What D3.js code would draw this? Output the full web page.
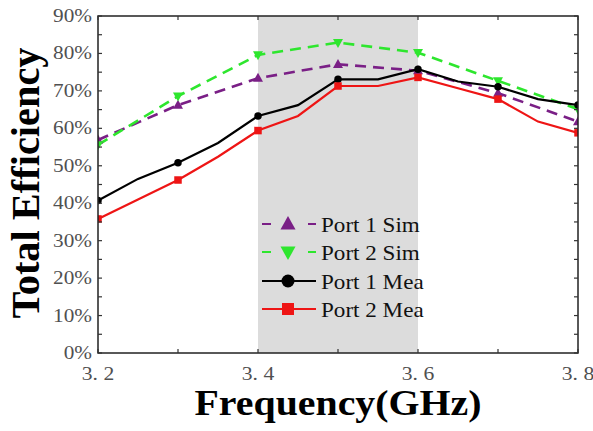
<!DOCTYPE html>
<html><head><meta charset="utf-8">
<script src="https://cdn.jsdelivr.net/npm/d3@7"></script>
<style>
html,body{margin:0;padding:0;background:#fff;}
svg{display:block;}
text{font-family:"Liberation Serif","Times New Roman",serif;}
</style></head>
<body>
<svg id="chart" width="593" height="431"></svg>
<script>
// ---- data ----
const meaFreqs = [3.2,3.25,3.3,3.35,3.4,3.45,3.5,3.55,3.6,3.65,3.7,3.75,3.8];
const port1Mea = [40.7,46.5,50.8,56.1,63.3,66.2,73.1,73.1,75.8,72.5,71.1,67.8,66.2];
const port2Mea = [35.8,41.0,46.2,52.4,59.4,63.3,71.3,71.3,73.6,70.7,67.8,61.8,58.8];
const simFreqs = [3.2,3.3,3.4,3.5,3.6,3.7,3.8];
const port1Sim = [56.9,66.2,73.4,77.1,75.4,69.4,61.8];
const port2Sim = [55.6,68.6,79.6,82.9,80.2,72.7,65.1];
const xTickLabels = [3.2,3.4,3.6,3.8];
const xTicksAll = [3.2,3.3,3.4,3.5,3.6,3.7,3.8];
const yTickLabels = [0,10,20,30,40,50,60,70,80,90];
const yTicksAll = d3.range(0,91,5);
const band = [3.4,3.6];
const legendNames = ["Port 1 Sim","Port 2 Sim","Port 1 Mea","Port 2 Mea"];

// ---- layout ----
const L=98,R=578,T=16,B=353;
const x = d3.scaleLinear().domain([3.2,3.8]).range([L,R]);
const y = d3.scaleLinear().domain([0,90]).range([B,T]);
const svg = d3.select("#chart");

svg.append("defs").append("clipPath").attr("id","clip")
  .append("rect").attr("x",L).attr("y",T).attr("width",R-L).attr("height",B-T);

// shaded band
svg.append("rect").attr("x",x(band[0])).attr("y",T)
  .attr("width",x(band[1])-x(band[0])).attr("height",B-T)
  .attr("fill","#dcdcdc");

const series = [
  {name:legendNames[0], xs:simFreqs, ys:port1Sim, color:"#7a1f86", dash:"11,7", marker:"tri-up"},
  {name:legendNames[1], xs:simFreqs, ys:port2Sim, color:"#2ee62e", dash:"11,7", marker:"tri-down"},
  {name:legendNames[2], xs:meaFreqs, ys:port1Mea, color:"#000000", dash:null, marker:"circle"},
  {name:legendNames[3], xs:meaFreqs, ys:port2Mea, color:"#ee1515", dash:null, marker:"square"}
];

function markerPath(type, s){
  if(type==="circle") return d3.symbol(d3.symbolCircle, s*s*0.785)();
  if(type==="square") return d3.symbol(d3.symbolSquare, s*s)();
  const h = s*0.9, w = s/2;
  if(type==="tri-up") return `M0,${-h*0.6}L${w},${h*0.4}L${-w},${h*0.4}Z`;
  return `M0,${h*0.6}L${w},${-h*0.4}L${-w},${-h*0.4}Z`;
}

const plot = svg.append("g").attr("clip-path","url(#clip)");
const line = d3.line();
series.forEach(s=>{
  const pts = s.xs.map((f,i)=>[x(f),y(s.ys[i])]);
  plot.append("path").attr("d",line(pts)).attr("fill","none")
    .attr("stroke",s.color).attr("stroke-width",s.dash?2.6:2.2)
    .attr("stroke-dasharray",s.dash);
});
series.forEach(s=>{
  s.xs.forEach((f,i)=>{
    if(Math.abs(Math.round(f*10)-f*10)>1e-6) return;
    const sz = s.marker.startsWith("tri")?10:7.5;
    plot.append("path").attr("d",markerPath(s.marker,sz))
      .attr("transform",`translate(${x(f)},${y(s.ys[i])})`)
      .attr("fill",s.color);
  });
});

// frame
svg.append("rect").attr("x",L).attr("y",T).attr("width",R-L).attr("height",B-T)
  .attr("fill","none").attr("stroke","#222").attr("stroke-width",1.5);

// ticks (inward, all four sides)
const tk = svg.append("g").attr("stroke","#333").attr("stroke-width",1.2);
xTicksAll.forEach(f=>{
  tk.append("line").attr("x1",x(f)).attr("x2",x(f)).attr("y1",B).attr("y2",B-4);
  tk.append("line").attr("x1",x(f)).attr("x2",x(f)).attr("y1",T).attr("y2",T+4);
});
yTicksAll.forEach(v=>{
  tk.append("line").attr("x1",L).attr("x2",L+4).attr("y1",y(v)).attr("y2",y(v));
  tk.append("line").attr("x1",R).attr("x2",R-4).attr("y1",y(v)).attr("y2",y(v));
});

// stretch helper
function stretch(sel, k){
  sel.each(function(){
    const w = this.getComputedTextLength();
    d3.select(this).attr("textLength",w*k).attr("lengthAdjust","spacingAndGlyphs");
  });
}

// tick labels
const yl = svg.append("g").selectAll("text").data(yTickLabels).join("text")
  .attr("x",L-6).attr("y",d=>y(d)+6).attr("text-anchor","end")
  .attr("font-size",18).attr("fill","#505050").text(d=>d+"%");
stretch(yl,1.18);
const xl = svg.append("g").selectAll("text").data(xTickLabels).join("text")
  .attr("x",d=>x(d)).attr("y",380).attr("text-anchor","middle")
  .attr("font-size",18).attr("fill","#505050").text(d=>d3.format(".1f")(d).replace(".",". "));
stretch(xl,1.2);

// axis titles
svg.append("text").attr("x",338).attr("y",415).attr("text-anchor","middle")
  .attr("font-size",36).attr("font-weight","bold").attr("fill","#000")
  .attr("textLength",287).attr("lengthAdjust","spacingAndGlyphs")
  .text("Frequency(GHz)");
svg.append("text").attr("transform","translate(39,183) rotate(-90)")
  .attr("text-anchor","middle")
  .attr("font-size",39).attr("font-weight","bold").attr("fill","#000")
  .attr("textLength",271).attr("lengthAdjust","spacingAndGlyphs")
  .text("Total Efficiency");

// legend
const lg = svg.append("g");
const rowY = [224,252,281,309];
series.forEach((s,i)=>{
  const cy = rowY[i];
  lg.append("line").attr("x1",262).attr("x2",316).attr("y1",cy).attr("y2",cy)
    .attr("stroke",s.color).attr("stroke-width",2.2)
    .attr("stroke-dasharray",s.dash?"9,37,8":null);
  const sz = s.marker.startsWith("tri")?15:13;
  lg.append("path").attr("d",markerPath(s.marker, s.marker==="square"?12:sz))
    .attr("transform",`translate(288,${cy})`).attr("fill",s.color);
  const t = lg.append("text").attr("x",321).attr("y",cy+7.5)
    .attr("font-size",21).attr("fill","#111").text(s.name);
  stretch(t,1.1);
});
</script>
</body></html>
